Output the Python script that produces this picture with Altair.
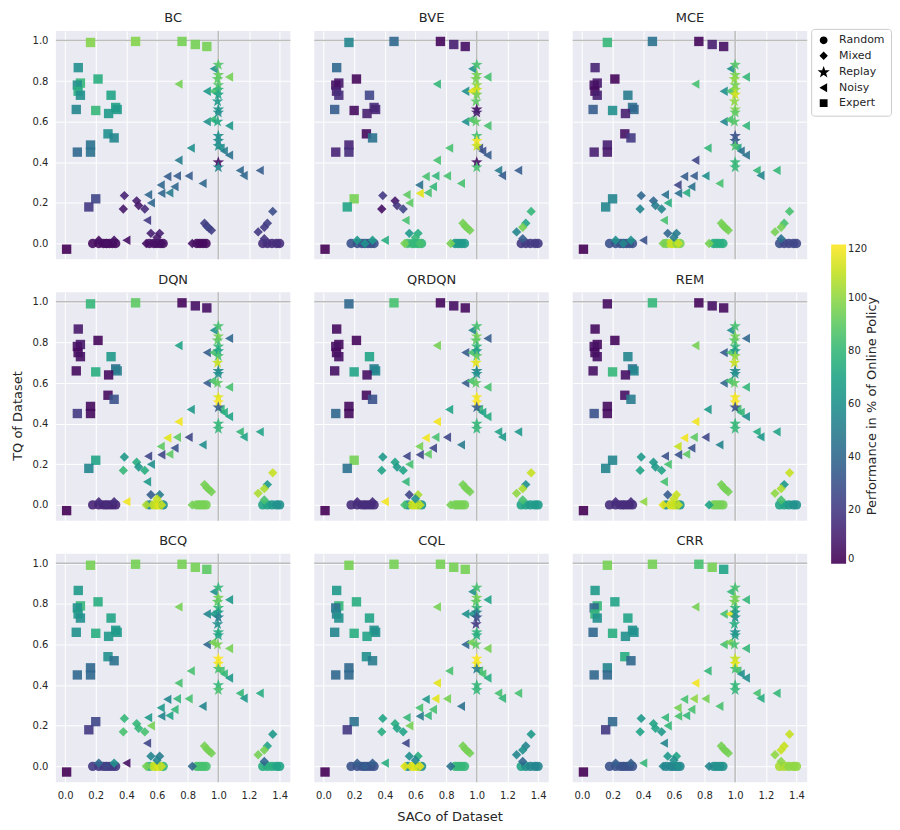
import altair as alt
import pandas as pd

ALGOS = ["BC", "BVE", "MCE", "DQN", "QRDQN", "REM", "BCQ", "CQL", "CRR"]
TYPE_ORDER = ["Random", "Mixed", "Replay", "Noisy", "Expert"]

# ---- dataset positions (SACo, TQ) shared by all panels ----
expert_x = [0.166, 0.46, 0.763, 0.85, 0.925, 0.086, 0.10, 0.08, 0.085, 0.10, 0.215, 0.30, 0.33,
            0.34, 0.073, 0.20, 0.284, 0.28, 0.32, 0.08, 0.166, 0.166, 0.20, 0.155, 0.01]
expert_y = [0.99, 0.995, 0.995, 0.98, 0.97, 0.866, 0.79, 0.78, 0.75, 0.73, 0.81, 0.73, 0.67,
            0.66, 0.66, 0.655, 0.64, 0.54, 0.52, 0.45, 0.485, 0.45, 0.22, 0.18, -0.028]

replay_x = [1.0, 1.0, 0.995, 1.0, 1.0, 1.0, 0.995, 1.0, 1.0, 0.995, 1.0, 1.0, 1.0, 1.0, 1.0]
replay_y = [0.88, 0.83, 0.81, 0.78, 0.757, 0.733, 0.70, 0.66, 0.645, 0.60, 0.53, 0.505, 0.48, 0.40, 0.375]

noisy_x = [0.97, 1.07, 0.74, 0.925, 0.965, 0.925, 0.96, 1.07, 0.82, 1.015, 1.036, 1.07, 0.74, 1.14,
           1.165, 1.27, 0.667, 0.73, 0.806, 0.897, 0.624, 0.714, 0.68, 0.628, 0.542, 0.56, 0.535, 0.40]
noisy_y = [0.86, 0.82, 0.785, 0.75, 0.75, 0.60, 0.61, 0.58, 0.47, 0.47, 0.455, 0.435, 0.41, 0.36,
           0.335, 0.36, 0.33, 0.333, 0.333, 0.296, 0.288, 0.28, 0.25, 0.247, 0.24, 0.20, 0.114, 0.016]

mixed_x = [0.387, 0.38, 0.467, 0.48, 0.52, 0.91, 0.925, 0.94, 0.955, 1.355, 1.32, 1.30, 1.26, 1.30,
           0.22, 0.32, 0.56, 0.617, 0.60, 0.53, 0.63, 0.83, 0.27]
mixed_y = [0.236, 0.17, 0.21, 0.187, 0.17, 0.10, 0.085, 0.075, 0.065, 0.158, 0.10, 0.08, 0.057, 0.024,
           0.016, 0.016, 0.05, 0.05, 0.03, 0.0, 0.0, 0.0, 0.0]

random_x = [0.18, 0.22, 0.25, 0.27, 0.29, 0.31, 0.33, 0.55, 0.58, 0.60, 0.62, 0.64, 0.86, 0.88, 0.90,
            0.92, 1.29, 1.32, 1.35, 1.38, 1.40]
random_y = [0.0, 0.0, 0.0, 0.0, 0.0, 0.0, 0.0, 0.0, 0.0, 0.0, 0.0, 0.0, 0.0, 0.0, 0.0,
            0.0, 0.0, 0.0, 0.0, 0.0, 0.0]

# ---- performance in % of online policy, per algorithm ----
perf_expert = {
    "BC":    [98, 98, 95, 95, 95, 60, 80, 60, 75, 60, 75, 70, 70, 65, 55, 80, 65, 60, 55, 40, 45, 45, 25, 20, 0],
    "BVE":   [55, 40, 2, 10, 5, 40, 8, 5, 10, 15, 2, 25, 15, 12, 35, 3, 10, 3, 45, 12, 12, 15, 95, 70, 0],
    "MCE":   [80, 45, 2, 10, 5, 12, 8, 5, 3, 10, 2, 50, 45, 40, 35, 60, 10, 5, 20, 10, 10, 8, 55, 55, 0],
    "DQN":   [80, 90, 2, 5, 5, 8, 8, 5, 3, 5, 2, 65, 45, 50, 3, 75, 3, 3, 30, 20, 3, 3, 70, 55, 0],
    "QRDQN": [40, 85, 2, 5, 3, 3, 3, 5, 3, 5, 2, 70, 50, 55, 5, 70, 5, 3, 30, 40, 3, 3, 95, 45, 0],
    "REM":   [3, 80, 2, 5, 3, 3, 3, 5, 3, 5, 2, 55, 45, 55, 5, 80, 5, 5, 50, 30, 3, 3, 55, 55, 0],
    "BCQ":   [95, 95, 95, 95, 90, 65, 80, 60, 65, 60, 75, 70, 65, 65, 60, 75, 65, 60, 45, 40, 40, 40, 25, 20, 0],
    "CQL":   [95, 95, 95, 95, 95, 65, 80, 45, 55, 60, 75, 70, 60, 60, 55, 75, 70, 60, 50, 40, 40, 40, 45, 20, 0],
    "CRR":   [95, 95, 85, 95, 70, 65, 80, 40, 80, 60, 70, 70, 60, 60, 40, 75, 60, 75, 40, 40, 55, 40, 40, 20, 0],
}
perf_replay = {
    "BC":    [88, 92, 90, 88, 80, 70, 65, 62, 60, 72, 60, 58, 60, 5, 55],
    "BVE":   [85, 95, 95, 100, 112, 95, 90, 5, 10, 90, 85, 118, 110, 5, 85],
    "MCE":   [88, 95, 100, 95, 100, 112, 100, 98, 90, 88, 30, 35, 85, 80, 80],
    "DQN":   [85, 95, 90, 80, 70, 85, 110, 55, 60, 90, 115, 120, 35, 80, 80],
    "QRDQN": [85, 95, 90, 80, 65, 90, 115, 55, 60, 90, 118, 120, 35, 80, 80],
    "REM":   [85, 95, 90, 80, 65, 100, 110, 55, 60, 90, 118, 120, 30, 80, 80],
    "BCQ":   [80, 95, 90, 80, 65, 50, 60, 75, 70, 95, 120, 118, 85, 80, 85],
    "CQL":   [85, 95, 90, 80, 50, 30, 20, 80, 75, 90, 120, 118, 50, 80, 80],
    "CRR":   [85, 95, 95, 80, 65, 60, 75, 60, 65, 85, 110, 115, 85, 80, 80],
}
perf_noisy = {
    "BC":    [60, 95, 95, 65, 85, 60, 80, 65, 60, 60, 50, 45, 50, 40, 40, 35, 35, 35, 35, 40, 40, 40, 50, 40, 40, 40, 20, 5],
    "BVE":   [60, 85, 80, 60, 115, 60, 85, 85, 85, 30, 30, 35, 85, 50, 35, 35, 85, 80, 85, 85, 45, 80, 85, 115, 90, 90, 85, 75],
    "MCE":   [60, 80, 85, 60, 85, 55, 85, 80, 80, 70, 45, 45, 25, 80, 55, 80, 35, 35, 60, 85, 25, 45, 75, 45, 45, 75, 85, 30],
    "DQN":   [60, 40, 70, 35, 85, 35, 85, 85, 65, 80, 75, 70, 118, 80, 70, 70, 115, 90, 25, 60, 90, 30, 90, 25, 25, 60, 65, 118],
    "QRDQN": [55, 35, 95, 35, 85, 35, 85, 85, 70, 80, 70, 75, 118, 70, 65, 65, 118, 85, 25, 50, 95, 25, 90, 25, 25, 85, 80, 118],
    "REM":   [60, 40, 95, 35, 85, 40, 85, 80, 65, 85, 80, 60, 118, 75, 65, 70, 118, 90, 25, 55, 110, 30, 90, 30, 30, 85, 85, 100],
    "BCQ":   [60, 65, 95, 55, 65, 40, 95, 95, 85, 85, 80, 65, 85, 80, 65, 75, 55, 80, 85, 55, 65, 80, 70, 55, 65, 95, 25, 5],
    "CQL":   [60, 70, 95, 60, 65, 40, 95, 95, 85, 85, 85, 75, 115, 85, 80, 85, 65, 115, 95, 45, 85, 85, 80, 50, 80, 95, 25, 75],
    "CRR":   [80, 80, 95, 85, 115, 85, 95, 80, 80, 85, 60, 60, 118, 85, 75, 80, 85, 100, 95, 85, 95, 85, 80, 85, 80, 80, 55, 80],
}
perf_mixed = {
    "BC":    [12, 8, 10, 8, 15, 22, 22, 25, 22, 28, 22, 20, 20, 18, 5, 5, 10, 10, 8, 5, 5, 5, 5],
    "BVE":   [20, 5, 8, 18, 25, 95, 95, 95, 95, 80, 70, 95, 55, 35, 65, 65, 65, 75, 80, 95, 85, 95, 60],
    "MCE":   [40, 55, 40, 50, 55, 95, 95, 95, 95, 85, 85, 95, 95, 45, 60, 60, 40, 50, 50, 95, 110, 95, 55],
    "DQN":   [65, 80, 75, 65, 75, 95, 95, 95, 95, 110, 65, 105, 105, 85, 15, 15, 35, 50, 110, 105, 110, 95, 15],
    "QRDQN": [65, 70, 70, 65, 70, 95, 95, 95, 95, 110, 60, 105, 100, 85, 15, 15, 25, 105, 60, 85, 110, 95, 15],
    "REM":   [65, 70, 65, 65, 70, 95, 95, 95, 95, 110, 65, 105, 100, 85, 15, 15, 35, 110, 110, 115, 110, 70, 15],
    "BCQ":   [80, 85, 80, 80, 85, 95, 95, 95, 95, 65, 70, 95, 95, 40, 40, 60, 55, 50, 55, 95, 110, 40, 25],
    "CQL":   [70, 75, 75, 70, 70, 95, 95, 95, 95, 65, 55, 60, 55, 40, 35, 35, 60, 75, 55, 115, 115, 45, 35],
    "CRR":   [65, 70, 70, 70, 65, 95, 95, 95, 95, 110, 110, 110, 100, 100, 35, 35, 65, 70, 60, 55, 60, 55, 30],
}
perf_random = {
    "BC":    [3, 3, 3, 3, 3, 3, 3, 5, 5, 5, 5, 5, 3, 3, 3, 3, 15, 15, 15, 15, 15],
    "BVE":   [30, 30, 30, 30, 30, 30, 30, 85, 80, 80, 80, 80, 65, 65, 65, 65, 20, 20, 20, 20, 20],
    "MCE":   [30, 30, 30, 30, 30, 30, 30, 95, 110, 110, 100, 95, 75, 75, 75, 75, 30, 25, 25, 25, 25],
    "DQN":   [12, 12, 12, 12, 12, 12, 12, 55, 110, 110, 115, 60, 95, 95, 95, 95, 70, 70, 65, 60, 60],
    "QRDQN": [15, 15, 15, 15, 15, 15, 15, 60, 110, 110, 110, 65, 95, 95, 95, 95, 70, 70, 65, 65, 65],
    "REM":   [15, 15, 15, 15, 15, 15, 15, 60, 115, 110, 110, 65, 95, 95, 95, 95, 70, 70, 65, 60, 60],
    "BCQ":   [20, 20, 20, 20, 20, 20, 20, 80, 110, 110, 115, 80, 85, 85, 85, 85, 75, 75, 75, 70, 70],
    "CQL":   [30, 30, 30, 30, 30, 30, 30, 60, 115, 115, 110, 60, 80, 80, 80, 80, 70, 60, 55, 55, 55],
    "CRR":   [30, 30, 30, 30, 30, 30, 30, 55, 55, 55, 55, 55, 60, 60, 60, 60, 105, 105, 100, 100, 100],
}

X_TICKS = [0.0, 0.2, 0.4, 0.6, 0.8, 1.0, 1.2, 1.4]
Y_TICKS = [0.0, 0.2, 0.4, 0.6, 0.8, 1.0]
CBAR_TICKS = [0, 20, 40, 60, 80, 100, 120]
CBAR_TITLE = "Performance in % of Online Policy"

STAR = ("M0,-1.3L0.306,-0.421L1.236,-0.402L0.494,0.161L0.764,1.052L0,0.52"
        "L-0.764,1.052L-0.494,0.161L-1.236,-0.402L-0.306,-0.421Z")

groups = [
    ("Random", random_x, random_y, perf_random),
    ("Mixed", mixed_x, mixed_y, perf_mixed),
    ("Expert", expert_x, expert_y, perf_expert),
    ("Noisy", noisy_x, noisy_y, perf_noisy),
    ("Replay", replay_x, replay_y, perf_replay),
]
rows = []
for algo in ALGOS:
    for typ, xs, ys, perf in groups:
        for x, y, p in zip(xs, ys, perf[algo]):
            rows.append({"algo": algo, "type": typ, "saco": x, "tq": y, "perf": p})
df = pd.DataFrame(rows)

ref_df = pd.DataFrame({"v": [1.0]})

FONT = "DejaVu Sans"
XSCALE = alt.Scale(domain=[-0.06, 1.47], nice=False, zero=False)
YSCALE = alt.Scale(domain=[-0.078, 1.047], nice=False, zero=False)
W, H = 235, 229

color_legend = alt.Legend(
    orient="none", legendX=777, legendY=214, direction="vertical",
    gradientLength=320, gradientThickness=15, values=CBAR_TICKS, title=None,
    labelFontSize=10, labelFont=FONT, labelColor="#262626",
    gradientStrokeWidth=0, padding=0,
)
shape_legend = alt.Legend(
    orient="none", legendX=757, legendY=-2, title=None,
    symbolFillColor="black", symbolStrokeColor="black", symbolOpacity=1, symbolSize=40,
    labelFontSize=11, labelFont=FONT, labelColor="#262626", rowPadding=2.5,
    labelOffset=10, symbolOffset=1,
    strokeColor="#cccccc", fillColor="white", cornerRadius=3, padding=6,
)


def panel(i, algo):
    r, c = divmod(i, 3)
    xaxis = alt.Axis(values=X_TICKS, format=".1f", labels=(r == 2), labelPadding=8,
                     titlePadding=10, titleX=W / 2 + 18)
    yaxis = alt.Axis(values=Y_TICKS, format=".1f", labels=(c == 0), labelPadding=8,
                     titlePadding=8, titleY=H / 2 + 9)
    xtitle = "SACo of Dataset" if (r == 2 and c == 1) else None
    ytitle = "TQ of Dataset" if (r == 1 and c == 0) else None

    vline = alt.Chart(ref_df).mark_rule(color="#bdbdbd", strokeWidth=1.5).encode(
        x=alt.X("v:Q", scale=XSCALE, axis=xaxis, title=xtitle))
    hline = alt.Chart(ref_df).mark_rule(color="#bdbdbd", strokeWidth=1.5).encode(
        y=alt.Y("v:Q", scale=YSCALE, axis=yaxis, title=ytitle))
    pts = alt.Chart(df[df.algo == algo]).mark_point(filled=True, opacity=0.9, size=88).encode(
        x=alt.X("saco:Q", scale=XSCALE, axis=xaxis, title=xtitle),
        y=alt.Y("tq:Q", scale=YSCALE, axis=yaxis, title=ytitle),
        color=alt.Color("perf:Q", scale=alt.Scale(scheme="viridis", domain=[0, 120]),
                        legend=color_legend),
        shape=alt.Shape("type:N", scale=alt.Scale(domain=TYPE_ORDER,
                        range=["circle", "diamond", STAR, "triangle-left", "square"]),
                        legend=shape_legend),
    )
    layers = [vline, hline, pts]
    if algo == "REM":
        cbar_title = alt.Chart(pd.DataFrame({"t": [CBAR_TITLE]})).mark_text(
            angle=270, fontSize=13, font=FONT, color="#262626", align="center", baseline="middle"
        ).encode(text="t:N", x=alt.value(300), y=alt.value(114))
        layers.append(cbar_title)
    return alt.layer(*layers).properties(
        width=W, height=H,
        title=alt.TitleParams(algo, fontSize=13, font=FONT, fontWeight="normal",
                              color="#262626", offset=5),
    )


panels = [panel(i, a) for i, a in enumerate(ALGOS)]
grid = alt.vconcat(
    *[alt.hconcat(*panels[k * 3:(k + 1) * 3], spacing=22) for k in range(3)],
    spacing=13,
)

chart = grid.properties(
    padding={"left": 3, "top": 3, "right": 0, "bottom": 5}
).configure_view(
    fill="#EAEAF2", stroke=None
).configure_axis(
    grid=True, gridColor="white", gridWidth=1, domain=False, ticks=False,
    labelFont=FONT, labelFontSize=10, labelColor="#262626",
    titleFont=FONT, titleFontSize=13, titleFontWeight="normal", titleColor="#262626",
).configure_legend(
    labelFont=FONT, titleFont=FONT,
)

chart.save("out.html", embed_options={"renderer": "svg", "actions": False})
